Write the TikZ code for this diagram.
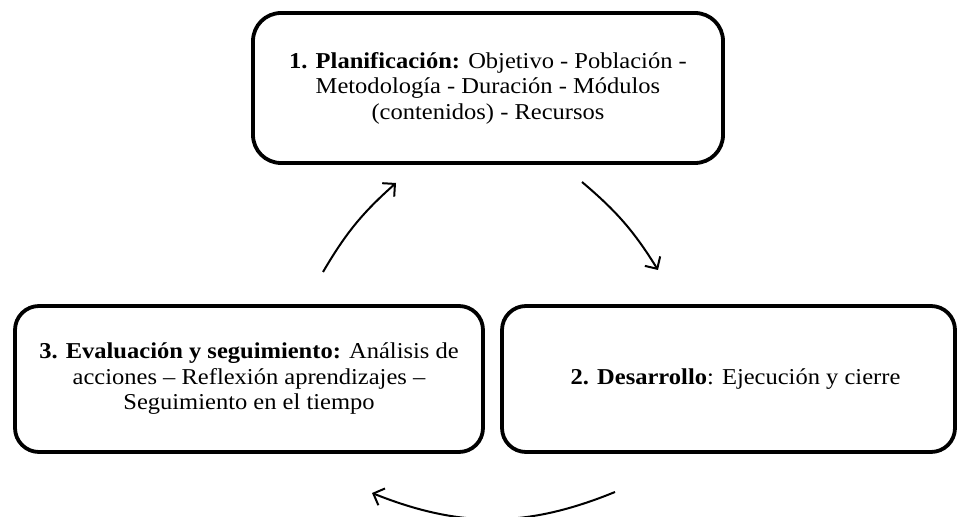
\documentclass[tikz,border=0pt]{standalone}
\usepackage{fontspec}
\setmainfont{Liberation Serif}[FakeStretch=1.08]
\usetikzlibrary{arrows.meta}
\begin{document}
\begin{tikzpicture}[x=1pt,y=1pt,
  stage/.style={draw=black,line width=3.8pt,rounded corners=24pt,align=center,
    font=\fontsize{22.7}{25.5}\selectfont,inner sep=0pt},
  cyc/.style={line width=2pt,-{Straight Barb[length=9pt,width=18pt]}}]
\useasboundingbox (0,0) rectangle (957,516);
\node[stage,minimum width=470pt,minimum height=150pt,rounded corners=28pt] (plan) at (488,428)
  {\textbf{1. Planificación:} Objetivo - Población -\\ Metodología - Duración - Módulos\\ (contenidos) - Recursos};
\node[stage,minimum width=468pt,minimum height=146pt] (eval) at (249,137)
  {\textbf{3. Evaluación y seguimiento:} Análisis de\\ acciones – Reflexión aprendizajes –\\ Seguimiento en el tiempo};
\node[stage,minimum width=453pt,minimum height=146pt] (dev) at (728.5,137)
  {\hspace*{14pt}\textbf{2. Desarrollo}: Ejecución y cierre};
\coordinate (a1s) at (323,244);
\coordinate (a1e) at (396,333);
\coordinate (a2s) at (582,334);
\coordinate (a2e) at (658,246);
\coordinate (a3s) at (615,24);
\coordinate (a3e) at (372,23);
\draw[cyc] (a1s) to[bend left=9] (a1e);
\draw[cyc] (a2s) to[bend left=9] (a2e);
\draw[cyc] (a3s) to[bend left=22] (a3e);
\end{tikzpicture}
\end{document}
